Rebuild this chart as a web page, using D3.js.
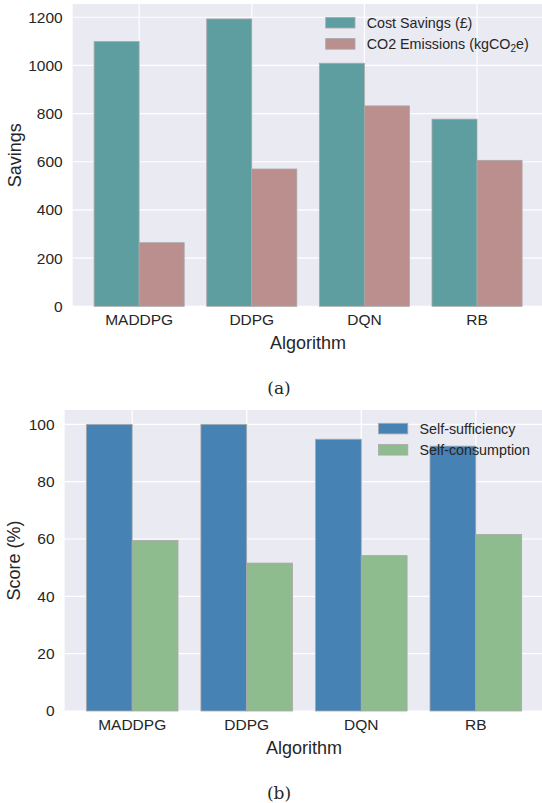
<!DOCTYPE html>
<html>
<head>
<meta charset="utf-8">
<script src="https://cdn.jsdelivr.net/npm/d3@7"></script>
<style>
  html, body { margin: 0; padding: 0; background: #fff; }
  svg { display: block; }
  text { font-family: "Liberation Sans", Arial, sans-serif; fill: #262626; }
  text.caption { font-family: "DejaVu Serif", "Liberation Serif", serif; }
</style>
</head>
<body>
<script>
// Shared categories
const algorithms = ["MADDPG", "DDPG", "DQN", "RB"];

// Panel (a): savings
const savingsSeries = ["Cost Savings (£)", "CO2 Emissions"];
const costSavings = [1099, 1193, 1009, 777];
const co2Emissions = [264, 570, 832, 606];
const savingsTicks = [0, 200, 400, 600, 800, 1000, 1200];

// Panel (b): scores
const scoreSeries = ["Self-sufficiency", "Self-consumption"];
const selfSufficiency = [100, 100, 94.8, 92.4];
const selfConsumption = [59.5, 51.6, 54.2, 61.6];
const scoreTicks = [0, 20, 40, 60, 80, 100];

const W = 542, H = 803;
const svg = d3.select("body").append("svg").attr("width", W).attr("height", H);

function panel(cfg) {
  const g = svg.append("g");
  const { left, right, top, bottom } = cfg;

  const x = d3.scaleBand().domain(algorithms).range([left, right])
    .paddingInner(0.2).paddingOuter(0.19);
  const xs = d3.scaleBand().domain(cfg.series).range([0, x.bandwidth()]).padding(0);
  const y = d3.scaleLinear().domain([0, cfg.ymax]).range([bottom, top]);

  // background
  g.append("rect").attr("x", left).attr("y", top)
    .attr("width", right - left).attr("height", bottom - top).attr("fill", "#eaeaf2");

  // grid
  g.selectAll(".hg").data(cfg.ticks).enter().append("line")
    .attr("x1", left).attr("x2", right)
    .attr("y1", d => y(d)).attr("y2", d => y(d))
    .attr("stroke", "#fff").attr("stroke-width", 1.2);
  g.selectAll(".vg").data(algorithms).enter().append("line")
    .attr("x1", d => x(d) + x.bandwidth() / 2).attr("x2", d => x(d) + x.bandwidth() / 2)
    .attr("y1", top).attr("y2", bottom)
    .attr("stroke", "#fff").attr("stroke-width", 1.2);

  // bars
  const rows = [];
  cfg.series.forEach((s, si) => {
    algorithms.forEach((a, ai) => rows.push({ a, s, v: cfg.values[si][ai], c: cfg.colors[si] }));
  });
  g.selectAll(".bar").data(rows).enter().append("rect")
    .attr("x", d => x(d.a) + xs(d.s))
    .attr("y", d => y(d.v))
    .attr("width", xs.bandwidth())
    .attr("height", d => y(0) - y(d.v))
    .attr("fill", d => d.c)
    .attr("stroke", "#a8a8a8").attr("stroke-width", 0.8);

  // axes (tick labels only, darkgrid style)
  const ya = d3.axisLeft(y).tickValues(cfg.ticks).tickFormat(d3.format("d"))
    .tickSize(0).tickPadding(10);
  const yg = g.append("g").attr("transform", `translate(${left},0)`).call(ya);
  yg.select(".domain").remove();
  yg.selectAll("text").attr("font-size", 15.5).attr("fill", "#262626");

  const xa = d3.axisBottom(x).tickSize(0).tickPadding(8);
  const xg = g.append("g").attr("transform", `translate(0,${bottom})`).call(xa);
  xg.select(".domain").remove();
  xg.selectAll("text").attr("font-size", 15.5).attr("fill", "#262626");

  // axis titles
  g.append("text").attr("x", (left + right) / 2).attr("y", bottom + 43)
    .attr("text-anchor", "middle").attr("font-size", 18).text("Algorithm");
  g.append("text")
    .attr("transform", `translate(${cfg.ylabelX},${(top + bottom) / 2}) rotate(-90)`)
    .attr("text-anchor", "middle").attr("dominant-baseline", "central")
    .attr("font-size", 18).text(cfg.ylabel);

  // legend
  const lg = g.append("g");
  cfg.series.forEach((s, i) => {
    const ly = cfg.legendY + i * 21.2;
    lg.append("rect").attr("x", cfg.legendX).attr("y", ly)
      .attr("width", 29.3).attr("height", 10.6)
      .attr("fill", cfg.colors[i]).attr("stroke", "#a8a8a8").attr("stroke-width", 0.8);
    const t = lg.append("text").attr("x", cfg.legendX + 41).attr("y", ly + 5.3)
      .attr("dy", "0.35em").attr("font-size", 14.3);
    if (cfg.legendRich && cfg.legendRich[i]) cfg.legendRich[i](t); else t.text(s);
  });

  // caption
  svg.append("text").attr("class", "caption")
    .attr("x", 279).attr("y", bottom + 82).attr("dy", "0.35em")
    .attr("text-anchor", "middle").attr("font-size", 17).text(cfg.caption);
}

panel({
  left: 72.7, right: 543.5, top: 4, bottom: 306.3,
  ymax: 1255, ticks: savingsTicks,
  series: savingsSeries, values: [costSavings, co2Emissions],
  colors: ["#5f9ea0", "#bc8f8f"],
  ylabel: "Savings", ylabelX: 15,
  legendX: 325.7, legendY: 17.4,
  legendRich: [null, t => {
    t.append("tspan").text("CO2 Emissions (kgCO");
    t.append("tspan").attr("font-size", 10).attr("dy", "0.3em").text("2");
    t.append("tspan").attr("dy", "-0.21em").text("e)");
  }],
  caption: "(a)"
});

panel({
  left: 64.6, right: 543.4, top: 410, bottom: 711,
  ymax: 105, ticks: scoreTicks,
  series: scoreSeries, values: [selfSufficiency, selfConsumption],
  colors: ["#4682b4", "#8fbc8f"],
  ylabel: "Score (%)", ylabelX: 14,
  legendX: 378.5, legendY: 423.3,
  caption: "(b)"
});
</script>
</body>
</html>
